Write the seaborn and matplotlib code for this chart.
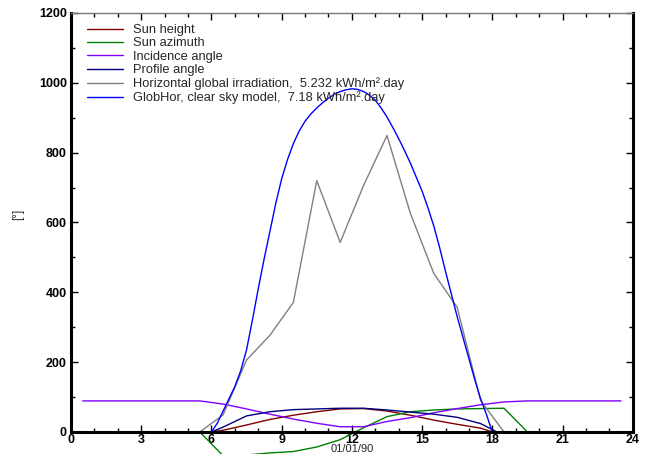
import matplotlib
matplotlib.use("Agg")
import matplotlib.pyplot as plt
import seaborn as sns
from matplotlib.ticker import MultipleLocator

# hourly values (plotted at mid-hour)
sun_height_h = [6.0, 6.5, 7.5, 8.5, 9.5, 10.5, 11.5, 12.5, 13.5, 14.5, 15.5, 16.5, 17.5, 18.0]
sun_height = [0, 5, 20, 36, 48, 58, 66, 67, 60, 48, 34, 22, 11, 0]

sun_azimuth_h = [5.5, 6.5, 7.5, 8.5, 9.5, 10.5, 11.5, 12.5, 13.5, 14.5, 15.5, 16.5, 17.5, 18.5, 19.5]
sun_azimuth = [0, -68, -66, -60, -56, -43, -22, 12, 44, 58, 63, 66, 67, 68, 0]

incidence_h = [0.5, 1.5, 2.5, 3.5, 4.5, 5.5, 6.5, 7.5, 8.5, 9.5, 10.5, 11.5, 12.5, 13.5,
               14.5, 15.5, 16.5, 17.5, 18.5, 19.5, 20.5, 21.5, 22.5, 23.5]
incidence = [89, 89, 89, 89, 89, 89, 80, 66, 51, 37, 25, 15, 15, 30,
             41, 55, 67, 78, 86, 89, 89, 89, 89, 89]

profile_h = [6.0, 6.5, 7.5, 8.5, 9.5, 10.5, 11.5, 12.5, 13.5, 14.5, 15.5, 16.5, 17.5, 18.2]
profile = [0, 14, 46, 58, 64, 66, 68, 68, 63, 57, 51, 42, 24, 0]

globhor_h = [5.5, 6.5, 7.5, 8.5, 9.5, 10.5, 11.5, 12.5, 13.5, 14.5, 15.5, 16.5, 17.5, 18.5]
globhor = [0, 49, 206, 277, 371, 720, 543, 706, 849, 626, 454, 357, 90, 0]

# clear sky model, read every quarter hour
clearsky_h = [6.0, 6.25, 6.5, 6.75, 7.0, 7.25, 7.5, 7.75, 8.0, 8.25, 8.5, 8.75,
              9.0, 9.25, 9.5, 9.75, 10.0, 10.25, 10.5, 10.75, 11.0, 11.25, 11.5, 11.75,
              12.0, 12.25, 12.5, 12.75, 13.0, 13.25, 13.5, 13.75, 14.0, 14.25, 14.5, 14.75,
              15.0, 15.25, 15.5, 15.75, 16.0, 16.25, 16.5, 16.75, 17.0, 17.25, 17.5, 17.75, 18.0]
clearsky = [0, 25, 60, 95, 130, 175, 235, 320, 410, 495, 575, 655,
            725, 780, 826, 862, 890, 911, 928, 943, 956, 967, 975, 980,
            983, 981, 975, 965, 950, 928, 902, 872, 840, 806, 770, 730,
            690, 642, 590, 528, 460, 395, 330, 270, 210, 150, 95, 50, 0]

series = [
    ("Sun height", sun_height_h, sun_height, "#800000"),
    ("Sun azimuth", sun_azimuth_h, sun_azimuth, "#008000"),
    ("Incidence angle", incidence_h, incidence, "#8000ff"),
    ("Profile angle", profile_h, profile, "#000080"),
    ("Horizontal global irradiation,  5.232 kWh/m\u00b2.day", globhor_h, globhor, "#808080"),
    ("GlobHor, clear sky model,  7.18 kWh/m\u00b2.day", clearsky_h, clearsky, "#0000ff"),
]

sns.set_style("ticks")
plt.rcParams["font.family"] = ["Liberation Sans", "DejaVu Sans"]

fig = plt.figure(figsize=(6.47, 4.54), dpi=100)
ax = fig.add_axes([0.1097, 0.0485, 0.978 - 0.1097, 0.9714 - 0.0485])

for label, xs, ys, color in series:
    sns.lineplot(x=xs, y=ys, ax=ax, color=color, linewidth=1.0, label=label,
                 sort=False, estimator=None, clip_on=False)

ax.set_xlim(0, 24)
ax.set_ylim(0, 1200)
ax.xaxis.set_major_locator(MultipleLocator(3))
ax.xaxis.set_minor_locator(MultipleLocator(1))
ax.yaxis.set_major_locator(MultipleLocator(200))
ax.yaxis.set_minor_locator(MultipleLocator(100))
ax.tick_params(which="both", direction="in", top=True, right=True,
               labelsize=9, colors="black")
ax.tick_params(axis="x", pad=1.5)
ax.tick_params(axis="y", pad=3)
ax.tick_params(which="major", length=5, width=1)
ax.tick_params(which="minor", length=3, width=1)
for lab in ax.get_xticklabels() + ax.get_yticklabels():
    lab.set_fontweight("bold")

for side in ["left", "bottom", "right"]:
    ax.spines[side].set_linewidth(2.2)
    ax.spines[side].set_color("black")
ax.spines["top"].set_linewidth(1.0)
ax.spines["top"].set_color("#777777")

ax.set_xlabel("01/01/90", fontsize=8, va="bottom")
ax.xaxis.set_label_coords(0.5, -0.0525)
ax.set_ylabel("[\u00b0]", fontsize=8.5)
ax.yaxis.set_label_coords(-0.083, 0.52)

ax.legend(loc="upper left", bbox_to_anchor=(0.0196, 0.986), frameon=False,
          fontsize=9.3, handlelength=2.8, labelspacing=0.1,
          borderaxespad=0, borderpad=0.4, handletextpad=0.78)

fig.savefig("out.png", dpi=100)
